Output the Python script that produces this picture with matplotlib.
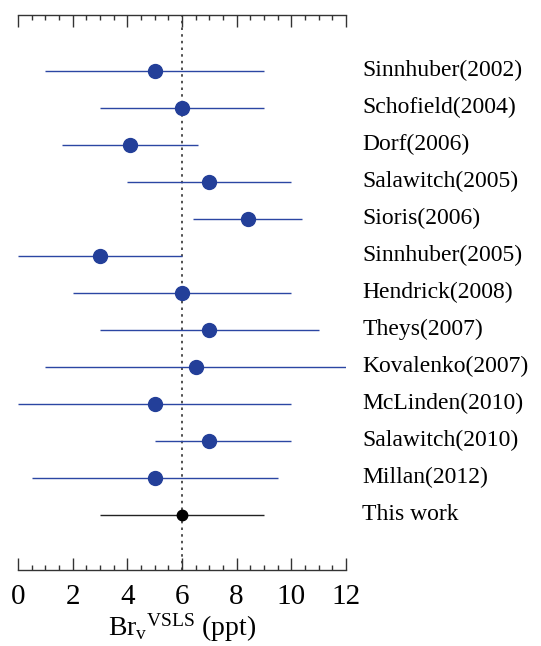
import matplotlib
matplotlib.use("Agg")
import matplotlib.pyplot as plt
from matplotlib.ticker import MultipleLocator

plt.rcParams['font.family'] = ['Liberation Serif', 'DejaVu Serif']
plt.rcParams['mathtext.fontset'] = 'custom'
plt.rcParams['mathtext.rm'] = 'Liberation Serif'
plt.rcParams['mathtext.it'] = 'Liberation Serif:italic'

studies = ["Sinnhuber(2002)", "Schofield(2004)", "Dorf(2006)", "Salawitch(2005)",
           "Sioris(2006)", "Sinnhuber(2005)", "Hendrick(2008)", "Theys(2007)",
           "Kovalenko(2007)", "McLinden(2010)", "Salawitch(2010)", "Millan(2012)",
           "This work"]
central = [5.0, 6.0, 4.1, 7.0, 8.4, 3.0, 6.0, 7.0, 6.5, 5.0, 7.0, 5.0, 6.0]
low = [1.0, 3.0, 1.6, 4.0, 6.4, 0.0, 2.0, 3.0, 1.0, 0.0, 5.0, 0.5, 3.0]
high = [9.0, 9.0, 6.6, 10.0, 10.4, 6.0, 10.0, 11.0, 12.0, 10.0, 10.0, 9.5, 9.0]
reference_value = 6.0

fig = plt.figure(figsize=(5.41, 6.46), dpi=100)
ax = fig.add_axes([18/541, 1 - 570/646, 328/541, 555/646])

n = len(studies)
for i, (name, c, lo, hi) in enumerate(zip(studies, central, low, high)):
    y = n - i
    is_this = name == "This work"
    lcol = '#222222' if is_this else '#2b46a3'
    mcol = 'black' if is_this else '#233f99'
    ax.plot([lo, hi], [y, y], color=lcol, lw=1.0, solid_capstyle='butt', zorder=2)
    ax.plot([c], [y], 'o', color=mcol, ms=7.5 if is_this else 10, zorder=3)
    ax.text(1.049, y, name, transform=ax.get_yaxis_transform(), ha='left', va='center',
            fontsize=17, clip_on=False)

ax.axvline(reference_value, color='#333333', ls=(0, (1.5, 2.5)), lw=1.2, zorder=1)

ax.set_xlim(0, 12)
ax.set_ylim(-0.5, n + 1.5)
ax.spines['left'].set_visible(False)
ax.spines['right'].set_visible(False)
for s in ['top', 'bottom']:
    ax.spines[s].set_color('#333333')
    ax.spines[s].set_linewidth(1.0)
ax.set_yticks([])
ax.xaxis.set_major_locator(MultipleLocator(2))
ax.xaxis.set_minor_locator(MultipleLocator(0.5))
ax.tick_params(axis='x', which='both', direction='in', top=True, bottom=True,
               color='#333333')
ax.tick_params(axis='x', which='major', length=8.5, width=1.0, labelsize=21, pad=10)
ax.tick_params(axis='x', which='minor', length=3.6, width=1.0)
ax.set_xlabel(r'$\mathrm{Br}_\mathrm{v}{}^\mathrm{VSLS}$ (ppt)', fontsize=20, labelpad=1)

fig.savefig("out.png", dpi=100)
